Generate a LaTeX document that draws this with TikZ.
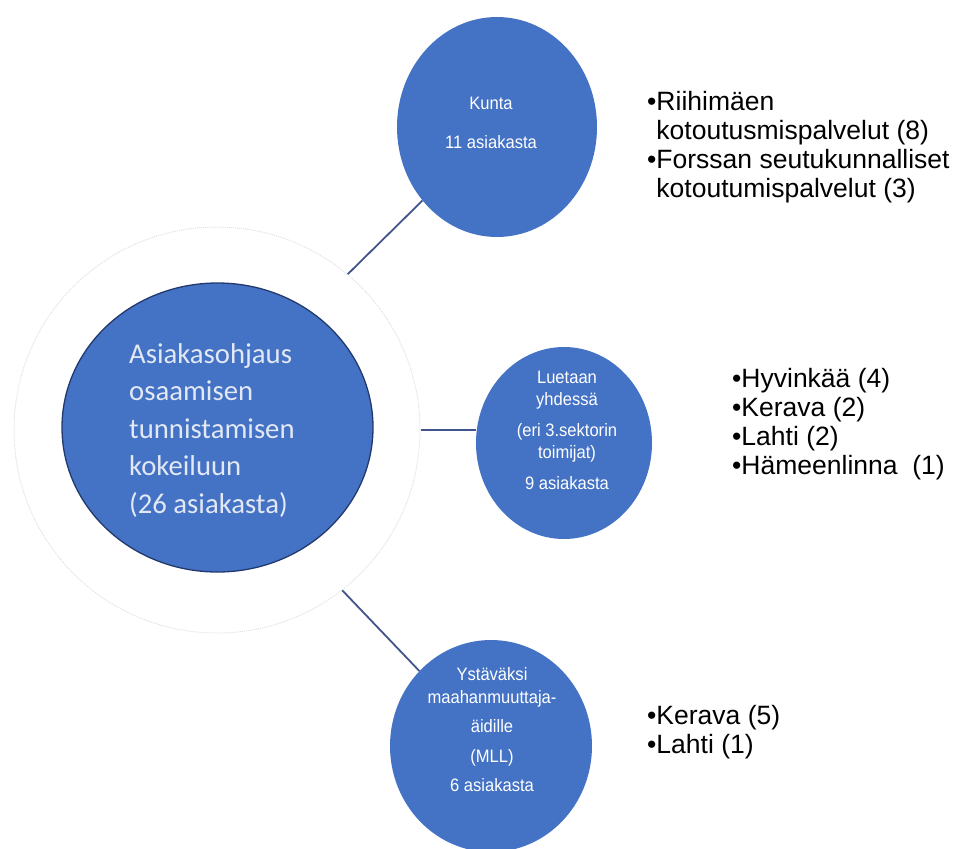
\documentclass[tikz,border=0pt]{standalone}
\usepackage{fontspec}
\setmainfont{Liberation Sans}
\newfontfamily\calib{Carlito}
\newfontfamily\narrowsans{Liberation Sans}[FakeStretch=0.92]
\usetikzlibrary{shapes.geometric}
\definecolor{fillblue}{HTML}{4472C4}
\definecolor{edgeblue}{HTML}{22396E}
\definecolor{linkblue}{HTML}{41558C}
\definecolor{maintxt}{HTML}{E2E8F4}
\begin{document}
\begin{tikzpicture}[x=1pt,y=-1pt,
  blob/.style={ellipse, fill=fillblue, inner sep=0pt},
  blobtext/.style={text=white, align=center, inner sep=0pt, font=\narrowsans\fontsize{18}{22.5}\selectfont},
  link/.style={draw=linkblue, line width=1.8pt},
  items/.style={anchor=north west, align=left, inner sep=0pt, font=\fontsize{26.5}{29}\selectfont}
]
\useasboundingbox (0,0) rectangle (957,848);
% faint halo round the main circle
\node[circle, draw=black!12, dash pattern=on 1pt off 1pt, line width=1pt, minimum size=406pt, inner sep=0pt] (halo) at (217,430) {};
% main circle
\node[blob, draw=edgeblue, line width=1.3pt, minimum width=311pt, minimum height=289pt] (main) at (217.5,427.5) {};
\node[anchor=north west, align=left, inner sep=0pt, text=maintxt, font=\calib\fontsize{28.7}{37.5}\selectfont] (maintext) at (129,343)
  {Asiakasohjaus\\osaamisen\\tunnistamisen\\kokeiluun\\(26 asiakasta)};
% child circles
\node[blob, minimum width=200pt, minimum height=220pt] (top) at (497,127) {};
\node[blob, minimum width=176pt, minimum height=192pt] (mid) at (564,443) {};
\node[blob, minimum width=202pt, minimum height=212pt] (bot) at (491,746) {};
\node[blobtext] (toptext) at (491,123) {Kunta\\[17pt]11 asiakasta};
\node[blobtext] (midtext) at (567,430) {Luetaan\\yhdessä\\[8pt](eri 3.sektorin\\toimijat)\\[8pt]9 asiakasta};
\node[blobtext] (bottext) at (492,730) {Ystäväksi\\maahanmuuttaja-\\[7pt]äidille\\[7pt](MLL)\\[7pt]6 asiakasta};
% connectors
\draw[link] (halo.50) -- (top);
\draw[link] (halo.0) -- (halo.0 -| mid.west);
\draw[link] (halo.-52) -- (bot);
% bullet lists
\node[items] (topitems) at (647,91) {•Riihimäen\\\phantom{•}kotoutusmispalvelut (8)\\•Forssan seutukunnalliset\\\phantom{•}kotoutumispalvelut (3)};
\node[items] (miditems) at (732,368) {•Hyvinkää (4)\\•Kerava (2)\\•Lahti (2)\\•Hämeenlinna\ \ (1)};
\node[items] (botitems) at (647,705) {•Kerava (5)\\•Lahti (1)};
\end{tikzpicture}
\end{document}
